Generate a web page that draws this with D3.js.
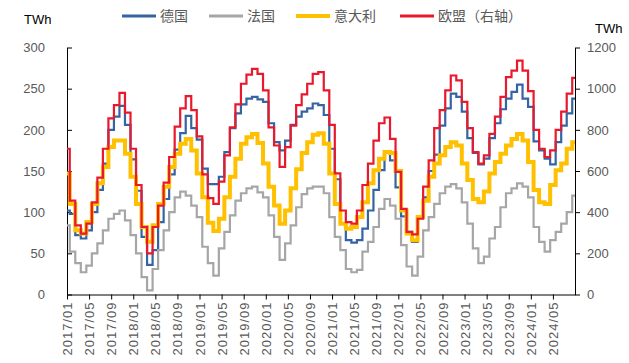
<!DOCTYPE html>
<html><head><meta charset="utf-8">
<script src="https://cdn.jsdelivr.net/npm/d3@7/dist/d3.min.js"></script>
<style>body{margin:0;background:#fff}svg{display:block}</style>
</head><body>
<svg id="chart" width="629" height="363"></svg>
<script>
// Categories: month labels 2017/01 .. 2024/09
const months = [
 "2017/01","2017/02","2017/03","2017/04","2017/05","2017/06","2017/07","2017/08","2017/09","2017/10","2017/11","2017/12",
 "2018/01","2018/02","2018/03","2018/04","2018/05","2018/06","2018/07","2018/08","2018/09","2018/10","2018/11","2018/12",
 "2019/01","2019/02","2019/03","2019/04","2019/05","2019/06","2019/07","2019/08","2019/09","2019/10","2019/11","2019/12",
 "2020/01","2020/02","2020/03","2020/04","2020/05","2020/06","2020/07","2020/08","2020/09","2020/10","2020/11","2020/12",
 "2021/01","2021/02","2021/03","2021/04","2021/05","2021/06","2021/07","2021/08","2021/09","2021/10","2021/11","2021/12",
 "2022/01","2022/02","2022/03","2022/04","2022/05","2022/06","2022/07","2022/08","2022/09","2022/10","2022/11","2022/12",
 "2023/01","2023/02","2023/03","2023/04","2023/05","2023/06","2023/07","2023/08","2023/09","2023/10","2023/11","2023/12",
 "2024/01","2024/02","2024/03","2024/04","2024/05","2024/06","2024/07","2024/08","2024/09"
];
// Tick labels on the x axis
const xTickLabels = ["2017/01","2017/05","2017/09","2018/01","2018/05","2018/09","2019/01","2019/05","2019/09",
 "2020/01","2020/05","2020/09","2021/01","2021/05","2021/09","2022/01","2022/05","2022/09",
 "2023/01","2023/05","2023/09","2024/01","2024/05"];
const leftTicks = [0,50,100,150,200,250,300];
const rightTicks = [0,200,400,600,800,1000,1200];

// Series (TWh)
const germany = [
 102,98,72,68,78,100,127,159,200,216,229,206,
 164,126,70,36,54,88,116,146,176,196,217,202,
 188,153,134,134,143,173,202,220,231,238,240,237,
 234,208,185,175,187,206,216,222,226,232,230,218,
 177,140,86,66,63,66,80,102,127,151,172,163,
 130,95,76,64,93,118,150,170,205,226,244,240,
 222,190,172,158,165,190,208,225,238,246,255,238,
 228,186,175,165,158,185,205,220,238
];
const france = [
 84,52,38,27,35,50,62,78,92,98,102,90,
 72,50,21,5,31,54,78,100,118,125,120,108,
 94,58,38,23,56,76,96,114,123,129,131,124,
 118,96,70,42,62,84,106,122,129,131,131,123,
 94,70,54,31,27,30,52,64,82,104,116,108,
 92,60,34,23,46,78,94,110,123,131,134,129,
 112,86,56,38,46,68,82,106,123,129,135,131,
 118,82,64,52,66,76,86,100,120
];
const italy = [
 147,110,78,74,88,110,135,155,179,187,187,171,
 143,110,82,64,84,110,131,155,171,183,189,175,
 147,118,87,77,92,118,143,165,183,191,195,184,
 159,131,108,86,102,129,152,172,185,194,196,183,
 147,110,86,80,82,94,112,135,151,165,173,172,
 150,102,74,66,94,114,143,159,169,179,185,181,
 159,139,116,112,125,147,161,171,181,189,195,187,
 161,127,112,110,133,151,159,177,185
];
const eu = [
 708,456,336,296,344,448,568,708,856,920,980,884,
 708,532,328,200,328,432,544,668,816,904,964,896,
 768,584,468,440,548,676,812,924,1024,1068,1096,1072,
 992,812,724,620,716,820,920,972,1024,1072,1080,992,
 824,588,408,352,344,408,532,636,748,832,860,756,
 596,416,304,292,368,524,652,808,896,992,1064,1040,
 936,808,692,636,676,780,864,960,1056,1088,1136,1088,
 988,800,708,668,700,800,888,976,1052
];

const seriesNames = ["德国","法国","意大利","欧盟（右轴）"];
const seriesColors = ["#3564a3","#a6a6a6","#ffc000","#e8192c"];

const svg = d3.select("#chart");
const L = 67, R = 575, T = 47.5, B = 294.5;

const x = d3.scalePoint().domain(months).range([L, R]);
const yL = d3.scaleLinear().domain([0, 300]).range([B, T]);
const yR = d3.scaleLinear().domain([0, 1200]).range([B, T]);

const tickColor = "#000";
const labelColor = "#595959";
const font = "'Liberation Sans', Arial, sans-serif";

// Left axis
const gL = svg.append("g").attr("transform", `translate(${L},0)`)
  .call(d3.axisLeft(yL).tickValues(leftTicks).tickFormat(d3.format("d"))
    .tickSizeInner(-5).tickSizeOuter(0).tickPadding(22));
gL.select(".domain").attr("stroke", tickColor);
gL.selectAll(".tick line").attr("stroke", tickColor);
gL.selectAll(".tick text").attr("fill", labelColor).attr("font-size", 13).attr("font-family", font);

// Right axis
const gR = svg.append("g").attr("transform", `translate(${R},0)`)
  .call(d3.axisRight(yR).tickValues(rightTicks).tickFormat(d3.format("d"))
    .tickSizeInner(5).tickSizeOuter(0).tickPadding(7));
gR.select(".domain").attr("stroke", tickColor);
gR.selectAll(".tick line").attr("stroke", tickColor);
gR.selectAll(".tick text").attr("fill", labelColor).attr("font-size", 13).attr("font-family", font);

// Bottom axis
const gB = svg.append("g").attr("transform", `translate(0,${B})`)
  .call(d3.axisBottom(x).tickValues(xTickLabels).tickSizeInner(5).tickSizeOuter(0));
gB.select(".domain").attr("stroke", "#000");
gB.selectAll(".tick line").attr("stroke", tickColor);
gB.selectAll(".tick text")
  .attr("fill", labelColor).attr("font-size", 13).attr("font-family", font)
  .attr("letter-spacing", "1px")
  .attr("text-anchor", "end")
  .attr("transform", "rotate(-90)")
  .attr("x", -7).attr("y", 0).attr("dy", "0.35em");

// Lines
const stepLine = (scale) => d3.line()
  .x((d, i) => x(months[i]))
  .y(d => scale(d))
  .curve(d3.curveStep);

const data = [
  {values: germany, scale: yL, color: seriesColors[0], w: 2.2},
  {values: france, scale: yL, color: seriesColors[1], w: 2.2},
  {values: italy, scale: yL, color: seriesColors[2], w: 4},
  {values: eu, scale: yR, color: seriesColors[3], w: 2.2}
];
const gLines = svg.append("g");
data.forEach(s => {
  gLines.append("path")
    .datum(s.values)
    .attr("fill", "none")
    .attr("stroke", s.color)
    .attr("stroke-width", s.w)
    .attr("stroke-linejoin", "miter")
    .attr("d", stepLine(s.scale));
});

// Unit labels
svg.append("text").attr("x", 24).attr("y", 24).text("TWh")
  .attr("font-family", font).attr("font-size", 13).attr("fill", "#000");
svg.append("text").attr("x", 595).attr("y", 33).text("TWh")
  .attr("font-family", font).attr("font-size", 13).attr("fill", "#000");

// Legend
const legendX = [122, 209, 296, 400];
const leg = svg.append("g").attr("transform", "translate(0,16)");
seriesNames.forEach((n, i) => {
  leg.append("line").attr("x1", legendX[i]).attr("x2", legendX[i] + 34)
    .attr("y1", 0).attr("y2", 0)
    .attr("stroke", seriesColors[i]).attr("stroke-width", i === 2 ? 4 : 3);
  leg.append("text").attr("x", legendX[i] + 38).attr("y", 5).text(n)
    .attr("font-family", "'Noto Sans CJK SC', sans-serif").attr("font-size", 14)
    .attr("fill", labelColor);
});
</script>
</body></html>
